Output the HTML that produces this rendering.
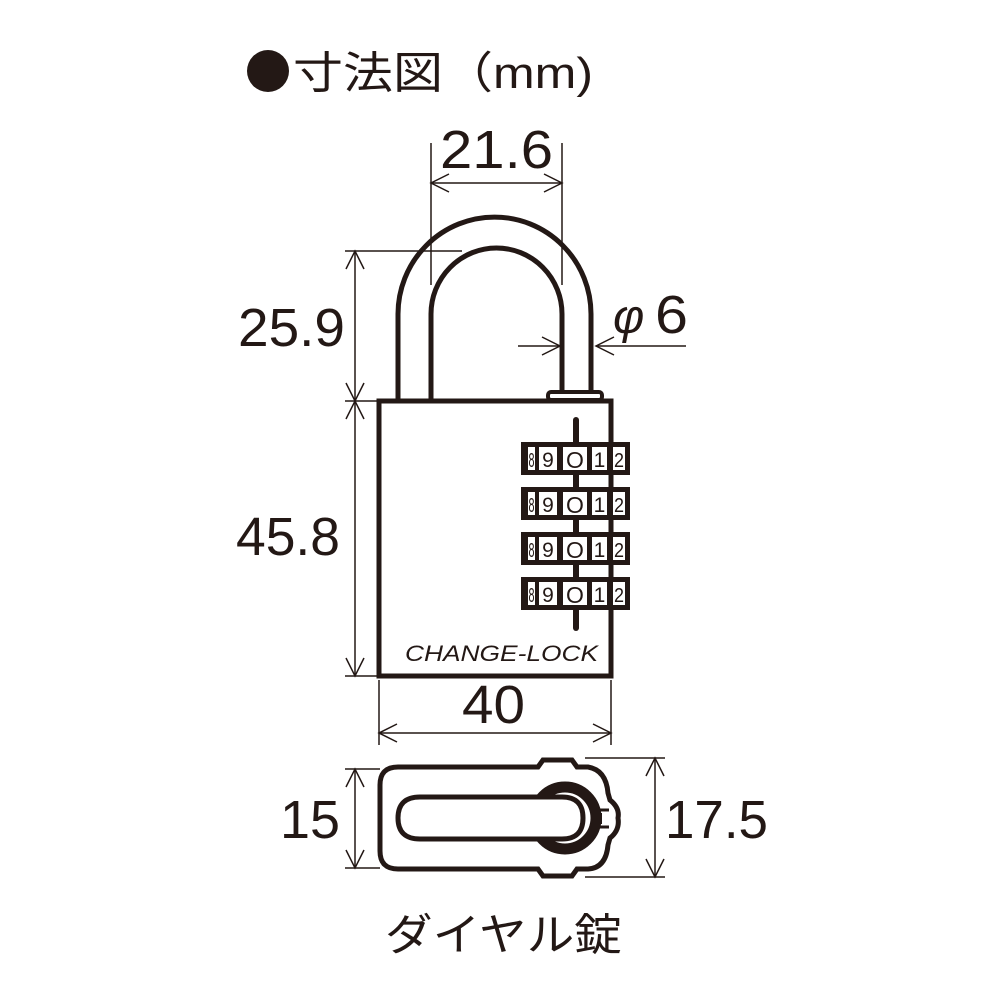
<!DOCTYPE html>
<html><head><meta charset="utf-8"><style>
html,body{margin:0;padding:0;background:#fff;}
svg{display:block;}
text{font-family:"Liberation Sans","Noto Sans CJK JP",sans-serif;fill:#231815;}
</style></head><body>
<svg width="1000" height="1000" viewBox="0 0 1000 1000" xmlns="http://www.w3.org/2000/svg">
<circle cx="268" cy="71" r="21" fill="#231815"/>
<text x="293" y="88" font-size="44" textLength="300" lengthAdjust="spacingAndGlyphs">寸法図（mm)</text>

<g stroke="#231815" fill="none" stroke-width="1.5">
<line x1="431" y1="143" x2="431" y2="285"/>
<line x1="562" y1="143" x2="562" y2="285"/>
<line x1="431" y1="183" x2="562" y2="183"/>
<polyline points="449,174 431,183 449,192"/>
<polyline points="544,174 562,183 544,192"/>
<line x1="518" y1="346" x2="560" y2="346"/>
<polyline points="542,337 560,346 542,355"/>
<line x1="596" y1="346" x2="686" y2="346"/>
<polyline points="614,337 596,346 614,355"/>
<line x1="345" y1="251" x2="462" y2="251"/>
<line x1="345" y1="401" x2="378" y2="401"/>
<line x1="345" y1="676" x2="378" y2="676"/>
<line x1="355" y1="251" x2="355" y2="676"/>
<polyline points="346,269 355,251 364,269"/>
<polyline points="346,383 355,401 364,383"/>
<polyline points="346,419 355,401 364,419"/>
<polyline points="346,658 355,676 364,658"/>
<line x1="379" y1="680" x2="379" y2="745"/>
<line x1="611" y1="680" x2="611" y2="745"/>
<line x1="379" y1="733" x2="611" y2="733"/>
<polyline points="397,724 379,733 397,742"/>
<polyline points="593,724 611,733 593,742"/>
<line x1="345" y1="769" x2="380" y2="769"/>
<line x1="345" y1="868" x2="380" y2="868"/>
<line x1="355" y1="769" x2="355" y2="868"/>
<polyline points="346,787 355,769 364,787"/>
<polyline points="346,850 355,868 364,850"/>
<line x1="585" y1="758" x2="665" y2="758"/>
<line x1="585" y1="877" x2="665" y2="877"/>
<line x1="655" y1="758" x2="655" y2="877"/>
<polyline points="646,776 655,758 664,776"/>
<polyline points="646,859 655,877 664,859"/>
</g>

<g stroke="#231815" fill="none" stroke-width="5">
<path d="M398,400 L398,314 A96.5,97 0 0 1 591,314 L591,393"/>
<path d="M431,400 L431,314 A65.5,66 0 0 1 562,314 L562,393"/>
<rect x="548" y="392" width="54" height="8" rx="3" fill="#fff" stroke-width="4"/>
<rect x="379" y="401" width="232" height="275"/>
</g>
<line x1="576" y1="420" x2="576" y2="628" stroke="#231815" stroke-width="6" stroke-linecap="round"/>
<g id="dial">
<rect x="521" y="442" width="109" height="33" fill="#231815"/>
<rect x="528" y="447" width="7" height="23" fill="#fff"/>
<rect x="539" y="447" width="18" height="23" fill="#fff"/>
<rect x="563" y="447" width="24" height="23" fill="#fff"/>
<rect x="592" y="447" width="15" height="23" fill="#fff"/>
<rect x="613" y="447" width="12" height="23" fill="#fff"/>
<text x="548" y="467" font-size="21" text-anchor="middle">9</text>
<text x="575" y="468" font-size="23" text-anchor="middle">O</text>
<text x="599.5" y="467" font-size="21" text-anchor="middle">1</text>
<text x="619" y="467" font-size="20" text-anchor="middle" textLength="10" lengthAdjust="spacingAndGlyphs">2</text>
<text x="531.5" y="467" font-size="20" text-anchor="middle" textLength="6" lengthAdjust="spacingAndGlyphs">8</text>
<line x1="610" y1="442" x2="610" y2="475" stroke="#231815" stroke-width="4"/>
</g>
<use href="#dial" y="45"/>
<use href="#dial" y="90"/>
<use href="#dial" y="135"/>
<text x="405" y="661" font-size="22" font-style="italic" textLength="193" lengthAdjust="spacingAndGlyphs">CHANGE-LOCK</text>

<text x="440" y="168" font-size="54" textLength="113" lengthAdjust="spacingAndGlyphs">21.6</text>
<text x="238" y="346" font-size="54" textLength="107" lengthAdjust="spacingAndGlyphs">25.9</text>
<text x="236" y="555" font-size="54" textLength="104" lengthAdjust="spacingAndGlyphs">45.8</text>
<text x="462" y="723" font-size="54" textLength="63" lengthAdjust="spacingAndGlyphs">40</text>
<text x="280" y="838" font-size="54" textLength="60" lengthAdjust="spacingAndGlyphs">15</text>
<text x="665" y="838" font-size="54" textLength="103" lengthAdjust="spacingAndGlyphs">17.5</text>
<text x="613" y="333" font-size="48" font-style="italic">φ</text>
<text x="655" y="333" font-size="54" textLength="33" lengthAdjust="spacingAndGlyphs">6</text>
<text x="385" y="950" font-size="44" textLength="237" lengthAdjust="spacingAndGlyphs">ダイヤル錠</text>

<g stroke="#231815" fill="none" stroke-width="5">
<path d="M398,767 L538,767 L543,760 L572,760 L577,767 L588,767 Q606,770 608,793 L610,800 Q620,808 618,818 Q620,830 610,838 L608,845 Q606,868 588,869 L577,869 L572,876 L543,876 L538,869 L398,869 Q380,869 380,851 L380,785 Q380,767 398,767 Z"/>
<line x1="598" y1="810" x2="609" y2="810" stroke-width="3"/>
<line x1="598" y1="827" x2="609" y2="827" stroke-width="3"/>
<line x1="601" y1="813" x2="601" y2="824" stroke-width="2"/>
<circle cx="565" cy="818" r="31" stroke-width="11"/>
<path d="M420,797 L562,797 Q583,797 583,818 Q583,839 562,839 L420,839 Q398,839 398,818 Q398,797 420,797 Z" fill="#fff"/>
</g>
</svg>
</body></html>
